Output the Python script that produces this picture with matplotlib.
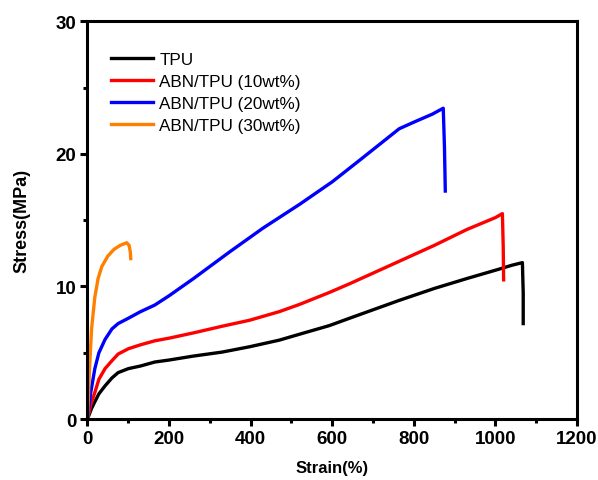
import matplotlib
matplotlib.use("Agg")
import matplotlib.pyplot as plt
from matplotlib.ticker import MultipleLocator

plt.rcParams["font.family"] = ["Liberation Sans", "DejaVu Sans"]

# --- data (strain %, stress MPa) ---
tpu_strain = [0, 5, 10, 18, 28, 43, 60, 75, 100, 130, 165, 200, 260, 330, 397, 470, 520, 593, 642, 764, 850, 930, 1008, 1040, 1066, 1068, 1068]
tpu_stress = [0, 0.4, 0.8, 1.3, 1.9, 2.5, 3.1, 3.5, 3.8, 4.0, 4.3, 4.45, 4.75, 5.05, 5.45, 5.95, 6.4, 7.05, 7.6, 8.95, 9.85, 10.6, 11.3, 11.6, 11.8, 9.5, 7.2]

abn10_strain = [0, 4, 8, 18, 28, 43, 60, 75, 100, 130, 165, 200, 260, 330, 397, 470, 520, 593, 642, 764, 850, 930, 1000, 1017, 1019, 1020]
abn10_stress = [0, 0.5, 1.1, 2.0, 3.0, 3.8, 4.4, 4.9, 5.3, 5.6, 5.9, 6.1, 6.5, 7.0, 7.45, 8.1, 8.65, 9.55, 10.2, 11.9, 13.1, 14.3, 15.2, 15.5, 13.0, 10.5]

abn20_strain = [0, 3, 8, 18, 28, 43, 60, 75, 100, 130, 165, 200, 260, 348, 430, 520, 600, 666, 764, 800, 845, 872, 875, 877]
abn20_stress = [0, 0.8, 2.0, 3.8, 5.0, 6.0, 6.8, 7.2, 7.6, 8.1, 8.6, 9.3, 10.6, 12.6, 14.4, 16.2, 17.9, 19.5, 21.9, 22.4, 23.0, 23.45, 20.5, 17.2]

abn30_strain = [0, 2, 5, 10, 18, 26, 35, 50, 65, 80, 96, 102, 105, 106]
abn30_stress = [0, 1.5, 3.8, 6.8, 9.2, 10.6, 11.5, 12.3, 12.8, 13.1, 13.3, 13.1, 12.6, 12.1]

series = [
    ("TPU", tpu_strain, tpu_stress, "#000000"),
    ("ABN/TPU (10wt%)", abn10_strain, abn10_stress, "#ff0000"),
    ("ABN/TPU (20wt%)", abn20_strain, abn20_stress, "#0000ff"),
    ("ABN/TPU (30wt%)", abn30_strain, abn30_stress, "#ff8000"),
]

fig = plt.figure(figsize=(5.98, 4.81), dpi=100)
ax = fig.add_axes([0.1463, 0.1268, 0.8187, 0.8266])

for label, xs, ys, color in series:
    ax.plot(xs, ys, color=color, linewidth=2.4, label=label, solid_joinstyle="round")

ax.set_xlim(0, 1200)
ax.set_ylim(0, 30)
ax.xaxis.set_major_locator(MultipleLocator(200))
ax.xaxis.set_minor_locator(MultipleLocator(100))
ax.yaxis.set_major_locator(MultipleLocator(10))
ax.yaxis.set_minor_locator(MultipleLocator(5))

for side in ax.spines.values():
    side.set_linewidth(2.2)
ax.tick_params(which="major", direction="out", length=5, width=2.2, labelsize=13.5, pad=3)
ax.tick_params(which="minor", direction="out", length=3, width=2.2)
for t in ax.get_xticklabels() + ax.get_yticklabels():
    t.set_fontweight("bold")

ax.set_xlabel("Strain(%)", fontsize=12, fontweight="bold", labelpad=9)
ax.set_ylabel("Stress(MPa)", fontsize=13, fontweight="bold", labelpad=18)

leg = ax.legend(loc="upper left", bbox_to_anchor=(0.035, 0.94), frameon=False,
                fontsize=12.3, handlelength=2.45, handletextpad=0.35,
                labelspacing=0.4, borderaxespad=0)

fig.savefig("out.png", dpi=100)
